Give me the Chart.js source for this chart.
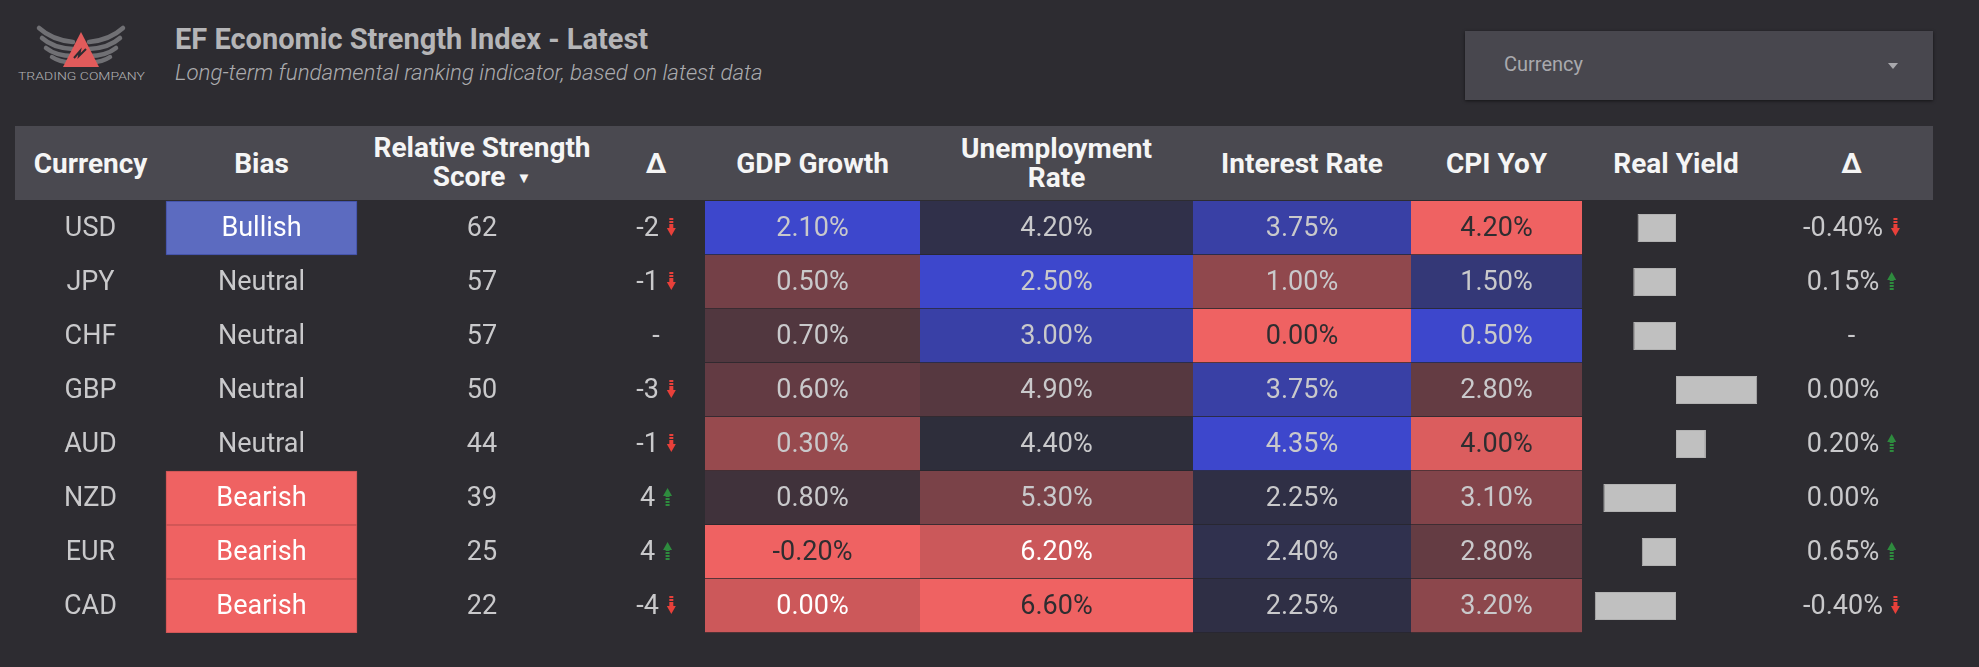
<!DOCTYPE html>
<html><head><meta charset="utf-8">
<script src="https://cdn.jsdelivr.net/npm/chart.js@4.4.1/dist/chart.umd.min.js"></script>
<style>
html,body{margin:0;padding:0;background:#2d2c31;width:1979px;height:667px;overflow:hidden;font-family:Roboto,"Noto Sans",sans-serif;}
#logo{position:absolute;left:0;top:0;}
#title{position:absolute;left:175px;top:22px;font-size:29px;font-weight:700;color:#b5b5b7;white-space:nowrap;}
#subtitle{position:absolute;left:175px;top:59px;font-size:22.3px;font-style:italic;font-weight:300;color:#ababae;white-space:nowrap;}
#dropdown{position:absolute;left:1465px;top:31px;width:468px;height:69px;background:#48474e;box-shadow:0 1px 3px rgba(0,0,0,0.55);}
#dropdown span{position:absolute;left:39px;top:21px;font-size:20px;color:#a9a9ad;}
#dropdown i{position:absolute;left:423px;top:32px;width:0;height:0;border-left:5px solid transparent;border-right:5px solid transparent;border-top:6px solid #a9a9ad;}
#header{position:absolute;left:15px;top:126px;width:1918px;height:74px;background:#4a4950;}
.hcell{position:absolute;top:0;height:74px;display:flex;align-items:center;justify-content:center;text-align:center;color:#f5f5f5;font-weight:700;font-size:28px;line-height:29px;transform:translateX(-50%);white-space:nowrap;}
.hcell small{font-size:15px;margin-left:4px;vertical-align:3px;}
#tableWrap{position:absolute;left:15px;top:201px;width:1918px;height:432px;}
#ryWrap{position:absolute;left:1582px;top:201px;width:188px;height:432px;}
</style></head>
<body>
<svg id="logo" width="170" height="95" viewBox="0 0 170 95">
  <g fill="none" stroke="#707074" stroke-width="4.5" stroke-linecap="round">
    <path d="M73,42 Q52,40 39,28"/>
    <path d="M73,49 Q53,48 42,38"/>
    <path d="M73,56 Q56,56 46,48"/>
    <path d="M74,62 Q61,63 52,57"/>
    <path d="M89,42 Q110,40 123,28"/>
    <path d="M89,49 Q109,48 120,38"/>
    <path d="M89,56 Q106,56 116,48"/>
    <path d="M88,62 Q101,63 110,57"/>
  </g>
  <polygon points="81,32 99,67 63,67" fill="#e15b5b"/>
  <polyline points="74,58 80,51 79,56 86,49" fill="none" stroke="#2d2c31" stroke-width="2"/>
  <text x="18" y="80" font-size="10.5" font-weight="300" fill="#b3b3b5" textLength="127" lengthAdjust="spacingAndGlyphs" font-family="Roboto">TRADING COMPANY</text>
</svg>
<div id="title">EF Economic Strength Index - Latest</div>
<div id="subtitle">Long-term fundamental ranking indicator, based on latest data</div>
<div id="dropdown"><span>Currency</span><i></i></div>
<div id="header"></div>
<div id="tableWrap"><canvas id="table"></canvas></div>
<div id="ryWrap"><canvas id="ry"></canvas></div>
<script>
// ---- data ----
const currencies = ['USD','JPY','CHF','GBP','AUD','NZD','EUR','CAD'];
const bias = ['Bullish','Neutral','Neutral','Neutral','Neutral','Bearish','Bearish','Bearish'];
const scores = [62,57,57,50,44,39,25,22];
const scoreDelta = [-2,-1,null,-3,-1,4,4,-4];
const gdpGrowth = [2.10,0.50,0.70,0.60,0.30,0.80,-0.20,0.00];
const unemployment = [4.20,2.50,3.00,4.90,4.40,5.30,6.20,6.60];
const interestRate = [3.75,1.00,0.00,3.75,4.35,2.25,2.40,2.25];
const cpiYoY = [4.20,1.50,0.50,2.80,4.00,3.10,2.80,3.20];
const realYield = [-0.45,-0.50,-0.50,0.95,0.35,-0.85,-0.40,-0.95];
const realYieldDelta = [-0.40,0.15,null,0.00,0.20,0.00,0.65,-0.40];
const headers = ['Currency','Bias','Relative Strength<br>Score <small>▼</small>','Δ','GDP Growth','Unemployment<br>Rate','Interest Rate','CPI YoY','Real Yield','Δ'];

// ---- layout / style ----
const colEdges = [15,166,357,607,705,920,1193,1411,1582,1770,1933];
const colCenter = i => (colEdges[i] + colEdges[i+1]) / 2;
const heatScales = [
  {col:4, values:gdpGrowth,    bad:-0.20, mid:0.90, good:2.10},
  {col:5, values:unemployment, bad:6.60,  mid:4.45, good:2.50},
  {col:6, values:interestRate, bad:0.00,  mid:2.04, good:4.35},
  {col:7, values:cpiYoY,       bad:4.20,  mid:2.25, good:0.50}
];
const NEUTRAL=[46,45,55], RED=[239,98,98], BLUE=[61,71,204];
function heatInfo(v, s){
  let t, target, side;
  if ((v - s.mid) * (s.good - s.mid) >= 0){ t=(v - s.mid)/(s.good - s.mid); target=BLUE; side='good'; }
  else { t=(v - s.mid)/(s.bad - s.mid); target=RED; side='bad'; }
  t=Math.max(0,Math.min(1,t));
  const c=NEUTRAL.map((n,k)=>Math.round(n+(target[k]-n)*t));
  let txt='#c9c9cb';
  if (side==='bad' && t>=0.88) txt='#2e2d30';
  else if (side==='bad' && t>=0.7) txt='#ffffff';
  return {bg:`rgb(${c[0]},${c[1]},${c[2]})`, txt};
}
const fmtPct = v => v.toFixed(2) + '%';

// header
const hdr=document.getElementById('header');
headers.forEach((h,i)=>{
  const d=document.createElement('div'); d.className='hcell';
  d.style.left=(colCenter(i)-15)+'px'; d.innerHTML='<span>'+h+'</span>'; hdr.appendChild(d);
});

// ---- datasets ----
const cellSpan = col => currencies.map(()=>[colEdges[col], colEdges[col+1]]);
const datasets = [];
datasets.push({
  label:'Bias', data:cellSpan(1), grouped:false,
  backgroundColor: bias.map(b=>b==='Bullish'?'#5c6bc0':b==='Bearish'?'#ef6262':'rgba(0,0,0,0)'),
  borderColor: bias.map(b=>b==='Bullish'?'#3f4ea6':b==='Bearish'?'#c95555':'rgba(0,0,0,0)'),
  borderWidth: bias.map(b=>b==='Neutral'?0:1), borderSkipped:false,
  barPercentage:1, categoryPercentage:1
});
heatScales.forEach(s=>{
  datasets.push({
    label:'heat'+s.col, data:cellSpan(s.col), grouped:false,
    backgroundColor: s.values.map(v=>heatInfo(v,s).bg),
    borderColor:'rgba(0,0,0,0.13)', borderWidth:{top:0,left:0,right:0,bottom:1}, borderSkipped:false,
    barPercentage:1, categoryPercentage:1
  });
});

function drawArrow(ctx, x, yc, up, color){
  ctx.save(); ctx.fillStyle=color;
  const w=9, sw=4;
  const dir = up ? -1 : 1;
  for(let k=0;k<3;k++){
    const yy = yc - dir*(9 - k*3);
    ctx.fillRect(x+(w-sw)/2, up? yy-2 : yy, sw, 2);
  }
  const s0 = yc, s1 = yc + dir*3;
  ctx.fillRect(x+(w-sw)/2, Math.min(s0,s1)-1, sw, 4);
  ctx.beginPath();
  const hy = yc + dir*1, tip = yc + dir*9;
  ctx.moveTo(x, hy); ctx.lineTo(x+w, hy); ctx.lineTo(x+w/2, tip); ctx.closePath(); ctx.fill();
  ctx.restore();
}
function drawDelta(ctx, cx, yb, yc, txt, sign){
  if (txt===null){ ctx.textAlign='center'; ctx.fillText('-', cx, yb); return; }
  const w=ctx.measureText(txt).width, gap=8, aw=9, total=w+gap+aw;
  const x0=cx-total/2;
  ctx.textAlign='left'; ctx.fillText(txt, x0, yb);
  if (sign!==0) drawArrow(ctx, x0+w+gap, yc-1, sign>0, sign>0?'#2e8b3e':'#e8403a');
}

const textPlugin = {
  id:'cellText',
  afterDatasetsDraw(chart){
    const ctx=chart.ctx, xs=chart.scales.x, ys=chart.scales.y;
    ctx.save();
    ctx.font='27px Roboto'; ctx.textBaseline='alphabetic';
    currencies.forEach((c,i)=>{
      const yc=ys.getPixelForValue(i), yb=yc+8;
      const X = col => xs.getPixelForValue(colCenter(col));
      ctx.fillStyle='#c9c9cb'; ctx.textAlign='center';
      ctx.fillText(c, X(0), yb);
      ctx.fillStyle = bias[i]==='Neutral' ? '#c9c9cb' : '#ffffff';
      ctx.fillText(bias[i], X(1), yb);
      ctx.fillStyle='#c9c9cb';
      ctx.fillText(String(scores[i]), X(2), yb);
      const d=scoreDelta[i];
      drawDelta(ctx, X(3), yb, yc, d===null?null:String(d), d===null?0:Math.sign(d));
      heatScales.forEach(s=>{
        const v=s.values[i];
        ctx.fillStyle=heatInfo(v,s).txt; ctx.textAlign='center';
        ctx.fillText(fmtPct(v), X(s.col), yb);
      });
      ctx.fillStyle='#c9c9cb';
      const r=realYieldDelta[i];
      drawDelta(ctx, X(9), yb, yc, r===null?null:fmtPct(r), r===null?0:Math.sign(r));
    });
    ctx.restore();
  }
};

new Chart(document.getElementById('table'), {
  type:'bar',
  data:{labels:currencies, datasets},
  options:{
    indexAxis:'y', responsive:true, maintainAspectRatio:false, animation:false,
    layout:{padding:0},
    plugins:{legend:{display:false}, tooltip:{enabled:false}},
    scales:{
      x:{type:'linear', min:colEdges[0], max:colEdges[colEdges.length-1], display:false},
      y:{type:'category', display:false, offset:true, grid:{display:false}}
    }
  },
  plugins:[textPlugin]
});

new Chart(document.getElementById('ry'), {
  type:'bar',
  data:{labels:currencies, datasets:[{label:'Real Yield', data:realYield, backgroundColor:'#c0c0c0',
    borderColor:'#b2b2b2', borderWidth:1, borderSkipped:false, barPercentage:0.52, categoryPercentage:1}]},
  options:{
    indexAxis:'y', responsive:true, maintainAspectRatio:false, animation:false,
    layout:{padding:0},
    plugins:{legend:{display:false}, tooltip:{enabled:false}},
    scales:{
      x:{type:'linear', min:-1.1, max:1.1, display:false},
      y:{type:'category', display:false, offset:true}
    }
  }
});
</script>
</body></html>
